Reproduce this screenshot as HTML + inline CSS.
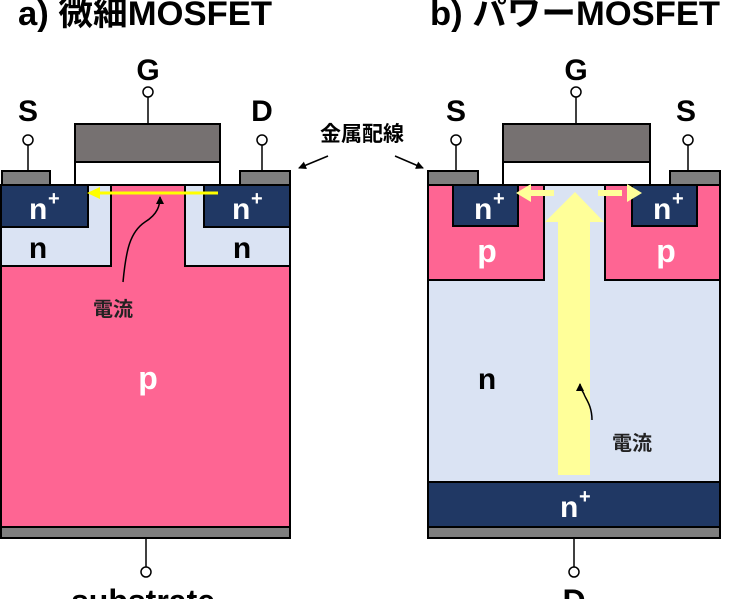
<!DOCTYPE html>
<html><head><meta charset="utf-8"><style>
html,body{margin:0;padding:0;background:#fff}
svg{display:block}
text{font-family:"Liberation Sans","Noto Sans CJK JP",sans-serif;font-weight:bold}
</style></head><body>
<svg width="746" height="599" viewBox="0 0 746 599" xmlns="http://www.w3.org/2000/svg">
<defs>
<marker id="ah" markerWidth="8" markerHeight="8" refX="7" refY="4" orient="auto" markerUnits="userSpaceOnUse"><path d="M0,0 L8,4 L0,8 z" fill="#000"/></marker>
</defs>
<text x="18" y="25" font-size="34" textLength="254" lengthAdjust="spacingAndGlyphs">a) 微細MOSFET</text>
<text x="430" y="25" font-size="34" textLength="290" lengthAdjust="spacingAndGlyphs">b) パワーMOSFET</text>

<!-- LEFT DEVICE -->
<rect x="1" y="185" width="289" height="342" fill="#fe6593" stroke="#000" stroke-width="2"/>
<rect x="1" y="185" width="110" height="81" fill="#dae3f3" stroke="#000" stroke-width="2"/>
<rect x="185" y="185" width="105" height="81" fill="#dae3f3" stroke="#000" stroke-width="2"/>
<rect x="1" y="185" width="87" height="42" fill="#203864" stroke="#000" stroke-width="2"/>
<rect x="204" y="185" width="86" height="42" fill="#203864" stroke="#000" stroke-width="2"/>
<rect x="1" y="527" width="289" height="11" fill="#7f7f7f" stroke="#000" stroke-width="2"/>
<rect x="2" y="171" width="48" height="14" fill="#7f7f7f" stroke="#000" stroke-width="2"/>
<rect x="240" y="171" width="50" height="14" fill="#7f7f7f" stroke="#000" stroke-width="2"/>
<rect x="75" y="162" width="145" height="23" fill="#fff" stroke="#000" stroke-width="2"/>
<rect x="75" y="124" width="145" height="38" fill="#767171" stroke="#000" stroke-width="2"/>
<line x1="148" y1="97" x2="148" y2="124" stroke="#000" stroke-width="1.5"/>
<circle cx="148" cy="92" r="5" fill="#fff" stroke="#000" stroke-width="1.5"/>
<line x1="28" y1="145" x2="28" y2="171" stroke="#000" stroke-width="1.5"/>
<circle cx="28" cy="140" r="5" fill="#fff" stroke="#000" stroke-width="1.5"/>
<line x1="262" y1="145" x2="262" y2="171" stroke="#000" stroke-width="1.5"/>
<circle cx="262" cy="140" r="5" fill="#fff" stroke="#000" stroke-width="1.5"/>
<line x1="146" y1="538" x2="146" y2="567" stroke="#000" stroke-width="1.5"/>
<circle cx="146" cy="572" r="5" fill="#fff" stroke="#000" stroke-width="1.5"/>
<text x="148" y="80" font-size="30" text-anchor="middle">G</text>
<text x="28" y="121" font-size="30" text-anchor="middle">S</text>
<text x="262" y="121" font-size="30" text-anchor="middle">D</text>
<text x="143" y="612" font-size="32" text-anchor="middle">substrate</text>
<text x="29" y="219" font-size="30" fill="#fff">n</text><text x="48" y="205" font-size="20" fill="#fff">+</text>
<text x="232" y="219" font-size="30" fill="#fff">n</text><text x="251" y="205" font-size="20" fill="#fff">+</text>
<text x="38" y="258" font-size="30" text-anchor="middle">n</text>
<text x="242" y="258" font-size="30" text-anchor="middle">n</text>
<text x="148" y="389" font-size="32" fill="#fff" text-anchor="middle">p</text>
<line x1="218" y1="193" x2="98" y2="193" stroke="#ffff00" stroke-width="3"/>
<path d="M87,193 L100,187 L100,199 z" fill="#ffff00"/>
<path d="M123,282 C126,250 130,232 145,222 C158,214 160,205 160,197" fill="none" stroke="#000" stroke-width="1.5" marker-end="url(#ah)"/>
<text x="113" y="316" font-size="20" text-anchor="middle" fill="#222">電流</text>

<text x="362" y="141" font-size="21" text-anchor="middle">金属配線</text>
<line x1="328" y1="156" x2="299" y2="168" stroke="#000" stroke-width="1.5" marker-end="url(#ah)"/>
<line x1="395" y1="156" x2="423" y2="168" stroke="#000" stroke-width="1.5" marker-end="url(#ah)"/>

<!-- RIGHT DEVICE -->
<rect x="428" y="185" width="292" height="297" fill="#dae3f3" stroke="#000" stroke-width="2"/>
<rect x="428" y="482" width="292" height="45" fill="#203864" stroke="#000" stroke-width="2"/>
<rect x="428" y="527" width="292" height="11" fill="#7f7f7f" stroke="#000" stroke-width="2"/>
<rect x="428" y="185" width="116" height="95" fill="#fe6593" stroke="#000" stroke-width="2"/>
<rect x="605" y="185" width="115" height="95" fill="#fe6593" stroke="#000" stroke-width="2"/>
<rect x="453" y="185" width="65" height="41" fill="#203864" stroke="#000" stroke-width="2"/>
<rect x="632" y="185" width="65" height="41" fill="#203864" stroke="#000" stroke-width="2"/>
<rect x="428" y="171" width="50" height="14" fill="#7f7f7f" stroke="#000" stroke-width="2"/>
<rect x="670" y="171" width="50" height="14" fill="#7f7f7f" stroke="#000" stroke-width="2"/>
<rect x="503" y="162" width="147" height="23" fill="#fff" stroke="#000" stroke-width="2"/>
<rect x="503" y="124" width="147" height="38" fill="#767171" stroke="#000" stroke-width="2"/>
<line x1="576" y1="97" x2="576" y2="124" stroke="#000" stroke-width="1.5"/>
<circle cx="576" cy="92" r="5" fill="#fff" stroke="#000" stroke-width="1.5"/>
<line x1="456" y1="145" x2="456" y2="171" stroke="#000" stroke-width="1.5"/>
<circle cx="456" cy="140" r="5" fill="#fff" stroke="#000" stroke-width="1.5"/>
<line x1="688" y1="145" x2="688" y2="171" stroke="#000" stroke-width="1.5"/>
<circle cx="688" cy="140" r="5" fill="#fff" stroke="#000" stroke-width="1.5"/>
<line x1="574" y1="538" x2="574" y2="567" stroke="#000" stroke-width="1.5"/>
<circle cx="574" cy="572" r="5" fill="#fff" stroke="#000" stroke-width="1.5"/>
<text x="576" y="80" font-size="30" text-anchor="middle">G</text>
<text x="456" y="121" font-size="30" text-anchor="middle">S</text>
<text x="686" y="121" font-size="30" text-anchor="middle">S</text>
<text x="574" y="612" font-size="32" text-anchor="middle">D</text>
<text x="474" y="219" font-size="30" fill="#fff">n</text><text x="493" y="205" font-size="20" fill="#fff">+</text>
<text x="653" y="219" font-size="30" fill="#fff">n</text><text x="672" y="205" font-size="20" fill="#fff">+</text>
<text x="487" y="262" font-size="32" fill="#fff" text-anchor="middle">p</text>
<text x="666" y="262" font-size="32" fill="#fff" text-anchor="middle">p</text>
<text x="487" y="389" font-size="30" text-anchor="middle">n</text>
<text x="560" y="517" font-size="30" fill="#fff">n</text><text x="579" y="503" font-size="20" fill="#fff">+</text>
<path d="M558,475 L558,222 L545,222 L575,192 L604,222 L590,222 L590,475 z" fill="#ffff99"/>
<path d="M554,193 L528,193" stroke="#ffff99" stroke-width="6"/>
<path d="M516,193 L531,184 L531,202 z" fill="#ffff99"/>
<path d="M598,193 L622,193" stroke="#ffff99" stroke-width="6"/>
<path d="M642,193 L627,184 L627,202 z" fill="#ffff99"/>
<path d="M592,420 C592,405 585,398 584,394 C582,390 580,388 580,384" fill="none" stroke="#000" stroke-width="1.5" marker-end="url(#ah)"/>
<text x="632" y="450" font-size="20" text-anchor="middle" fill="#222">電流</text>
</svg>
</body></html>
